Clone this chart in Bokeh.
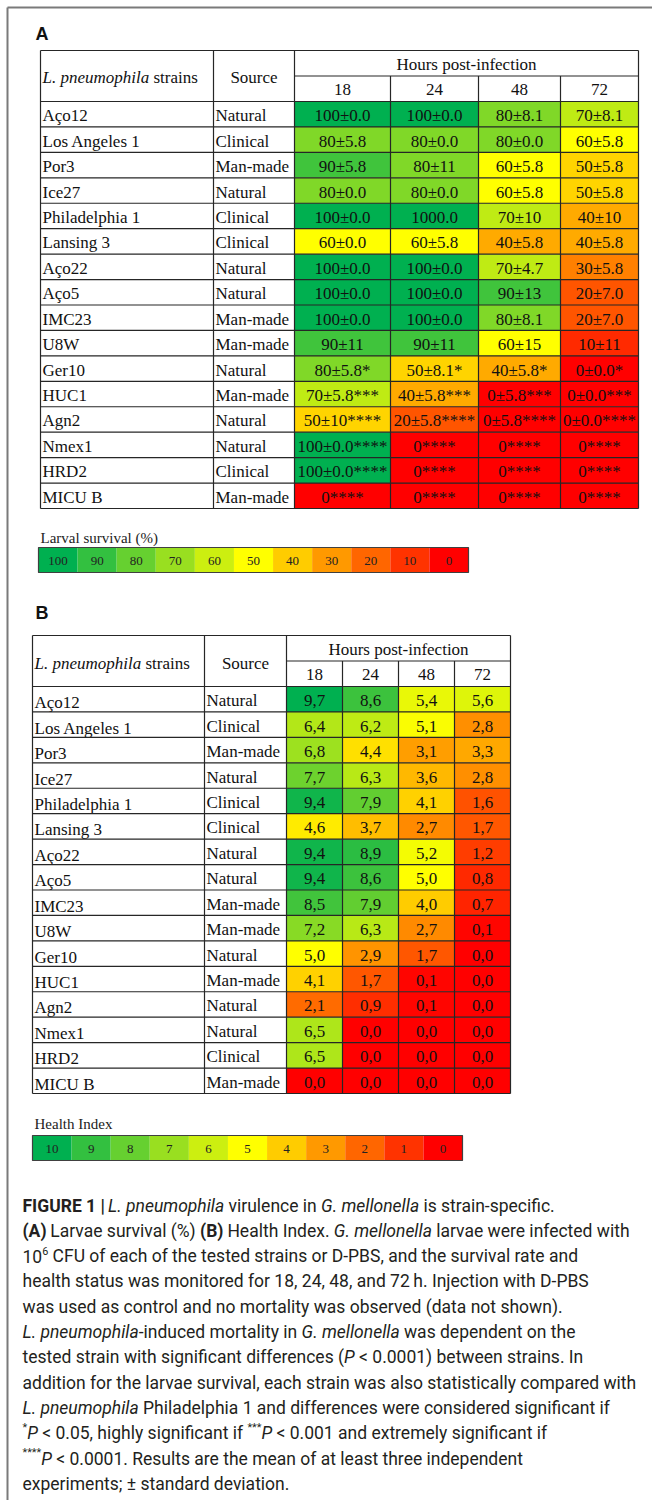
from bokeh.plotting import figure
from bokeh.models import Range1d
from bokeh.embed import file_html
from bokeh.resources import INLINE
from bokeh.core.properties import value
import subprocess

# ---------------- data ----------------
strains = ["Aço12", "Los Angeles 1", "Por3", "Ice27", "Philadelphia 1", "Lansing 3",
           "Aço22", "Aço5", "IMC23", "U8W", "Ger10", "HUC1", "Agn2", "Nmex1", "HRD2", "MICU B"]
sources = ["Natural", "Clinical", "Man-made", "Natural", "Clinical", "Clinical",
           "Natural", "Natural", "Man-made", "Man-made", "Natural", "Man-made",
           "Natural", "Natural", "Clinical", "Man-made"]
hours = ["18", "24", "48", "72"]

survival_18 = [100, 80, 90, 80, 100, 60, 100, 100, 100, 90, 80, 70, 50, 100, 100, 0]
survival_24 = [100, 80, 80, 80, 100, 60, 100, 100, 100, 90, 50, 40, 20, 0, 0, 0]
survival_48 = [80, 80, 60, 60, 70, 40, 70, 90, 80, 60, 40, 0, 0, 0, 0, 0]
survival_72 = [70, 60, 50, 50, 40, 40, 30, 20, 20, 10, 0, 0, 0, 0, 0, 0]

survival_text_18 = ["100±0.0", "80±5.8", "90±5.8", "80±0.0", "100±0.0", "60±0.0", "100±0.0", "100±0.0",
                    "100±0.0", "90±11", "80±5.8*", "70±5.8***", "50±10****", "100±0.0****", "100±0.0****", "0****"]
survival_text_24 = ["100±0.0", "80±0.0", "80±11", "80±0.0", "1000.0", "60±5.8", "100±0.0", "100±0.0",
                    "100±0.0", "90±11", "50±8.1*", "40±5.8***", "20±5.8****", "0****", "0****", "0****"]
survival_text_48 = ["80±8.1", "80±0.0", "60±5.8", "60±5.8", "70±10", "40±5.8", "70±4.7", "90±13",
                    "80±8.1", "60±15", "40±5.8*", "0±5.8***", "0±5.8****", "0****", "0****", "0****"]
survival_text_72 = ["70±8.1", "60±5.8", "50±5.8", "50±5.8", "40±10", "40±5.8", "30±5.8", "20±7.0",
                    "20±7.0", "10±11", "0±0.0*", "0±0.0***", "0±0.0****", "0****", "0****", "0****"]

health_18 = [9.7, 6.4, 6.8, 7.7, 9.4, 4.6, 9.4, 9.4, 8.5, 7.2, 5.0, 4.1, 2.1, 6.5, 6.5, 0.0]
health_24 = [8.6, 6.2, 4.4, 6.3, 7.9, 3.7, 8.9, 8.6, 7.9, 6.3, 2.9, 1.7, 0.9, 0.0, 0.0, 0.0]
health_48 = [5.4, 5.1, 3.1, 3.6, 4.1, 2.7, 5.2, 5.0, 4.0, 2.7, 1.7, 0.1, 0.1, 0.0, 0.0, 0.0]
health_72 = [5.6, 2.8, 3.3, 2.8, 1.6, 1.7, 1.2, 0.8, 0.7, 0.1, 0.0, 0.0, 0.0, 0.0, 0.0, 0.0]

legend_survival = [100, 90, 80, 70, 60, 50, 40, 30, 20, 10, 0]
legend_health = [10, 9, 8, 7, 6, 5, 4, 3, 2, 1, 0]

# ---------------- colour scale (red - yellow - green) ----------------
RED, YELLOW, GREEN = (255, 0, 0), (255, 255, 0), (0, 176, 80)


def scale3(v, lo, mid, hi):
    if v <= mid:
        t, c0, c1 = (v - lo) / (mid - lo), RED, YELLOW
    else:
        t, c0, c1 = (v - mid) / (hi - mid), YELLOW, GREEN
    t = max(0.0, min(1.0, t))
    return "#%02x%02x%02x" % tuple(int(round(a + (b - a) * t)) for a, b in zip(c0, c1))


# ---------------- text measurement ----------------
_fonts = {}


def _font(family, style):
    key = (family, style)
    if key not in _fonts:
        f = None
        try:
            from PIL import ImageFont
            pat = family + {"normal": ":style=Regular", "italic": ":style=Italic",
                            "bold": ":style=Bold"}[style]
            path = subprocess.run(["fc-match", "-f", "%{file}", pat], capture_output=True,
                                  text=True, timeout=10).stdout.strip()
            if path:
                f = ImageFont.truetype(path, 100)
        except Exception:
            f = None
        _fonts[key] = f
    return _fonts[key]


def tw(s, style, size, family="Roboto"):
    f = _font(family, style)
    if f is not None:
        try:
            return f.getlength(s) * size / 100.0
        except Exception:
            pass
    return len(s) * size * 0.5


W, H = 652, 1500
p = figure(width=W, height=H, x_range=Range1d(0, W), y_range=Range1d(H, 0),
           output_backend="svg", toolbar_location=None, min_border=0,
           x_axis_type=None, y_axis_type=None)
p.grid.visible = False
p.outline_line_color = None
p.background_fill_color = "white"
p.border_fill_color = "white"

SERIF = value("Liberation Serif")
SANS = value("Liberation Sans")
LINE = "#262626"
TFS = 17.0

# page frame (top and left)
p.segment(x0=[7, 7], y0=[7, 7], x1=[W, 7], y1=[7, H], line_color="#7a7a7a", line_width=2)


def draw_table(cols, top, mid, body_top, body_bottom, vals, labels, color_fn,
               name_dy, val_dy, hdr_dy):
    n = len(strains)
    rh = (body_bottom - body_top) / n
    tops = [body_top + rh * i for i in range(n)]
    bots = [body_top + rh * (i + 1) for i in range(n)]
    ctr = [body_top + rh * (i + 0.5) for i in range(n)]
    fs = value("%.1fpx" % TFS)
    for j in range(4):
        p.quad(left=[cols[2 + j]] * n, right=[cols[3 + j]] * n, top=tops, bottom=bots,
               fill_color=[color_fn(v) for v in vals[j]], line_color=None)
        xc = (cols[2 + j] + cols[3 + j]) / 2
        p.text(x=[xc] * n, y=[c + val_dy for c in ctr], text=labels[j], text_font=SERIF,
               text_font_size=fs, text_align="center", text_baseline="middle",
               text_color="#111111")
    # strain & source texts
    p.text(x=[cols[0] + 2] * n, y=[c + name_dy for c in ctr], text=strains, text_font=SERIF,
           text_font_size=fs, text_align="left", text_baseline="middle", text_color="#111111")
    p.text(x=[cols[1] + 2] * n, y=[c + val_dy for c in ctr], text=sources, text_font=SERIF,
           text_font_size=fs, text_align="left", text_baseline="middle", text_color="#111111")
    # header texts
    hc = (top + body_top) / 2 + hdr_dy
    p.text(x=[cols[0] + 2], y=[hc], text=["L. pneumophila"], text_font=SERIF,
           text_font_size=fs, text_font_style="italic", text_align="left",
           text_baseline="middle", text_color="#111111")
    sx = cols[0] + 2 + tw("L. pneumophila", "italic", TFS, "Liberation Serif") + tw(" ", "normal", TFS, "Liberation Serif")
    p.text(x=[sx], y=[hc], text=["strains"], text_font=SERIF,
           text_font_size=fs, text_align="left", text_baseline="middle", text_color="#111111")
    p.text(x=[(cols[1] + cols[2]) / 2], y=[hc], text=["Source"], text_font=SERIF,
           text_font_size=fs, text_align="center", text_baseline="middle", text_color="#111111")
    p.text(x=[(cols[2] + cols[6]) / 2], y=[(top + mid) / 2 + 1], text=["Hours post-infection"],
           text_font=SERIF, text_font_size=fs, text_align="center",
           text_baseline="middle", text_color="#111111")
    p.text(x=[(cols[2 + j] + cols[3 + j]) / 2 for j in range(4)], y=[(mid + body_top) / 2 + 1] * 4,
           text=hours, text_font=SERIF, text_font_size=fs, text_align="center",
           text_baseline="middle", text_color="#111111")
    # grid lines
    hy = [top] + [body_top + rh * i for i in range(n + 1)]
    p.segment(x0=[cols[0]] * len(hy), x1=[cols[6]] * len(hy), y0=hy, y1=hy, line_color=LINE, line_width=1.2)
    p.segment(x0=[cols[2]], x1=[cols[6]], y0=[mid], y1=[mid], line_color=LINE, line_width=1.2)
    vx = [cols[0], cols[1], cols[2], cols[6]]
    p.segment(x0=vx, x1=vx, y0=[top] * 4, y1=[body_bottom] * 4, line_color=LINE, line_width=1.2)
    vx2 = [cols[3], cols[4], cols[5]]
    p.segment(x0=vx2, x1=vx2, y0=[mid] * 3, y1=[body_bottom] * 3, line_color=LINE, line_width=1.2)


def draw_legend(x0, x1, y0, y1, vals, color_fn, title, title_y):
    n = len(vals)
    cw = (x1 - x0) / n
    p.quad(left=[x0 + cw * i for i in range(n)], right=[x0 + cw * (i + 1) for i in range(n)],
           top=[y0] * n, bottom=[y1] * n, fill_color=[color_fn(v) for v in vals], line_color=None)
    p.quad(left=[x0], right=[x1], top=[y0], bottom=[y1], fill_color=None, line_color="#404040", line_width=1.2)
    p.text(x=[x0 + cw * (i + 0.5) for i in range(n)], y=[(y0 + y1) / 2 + 1] * n, text=[str(v) for v in vals],
           text_font=SERIF, text_font_size=value("13px"), text_align="center", text_baseline="middle",
           text_color="#222222")
    p.text(x=[x0 + 2], y=[title_y], text=[title], text_font=SERIF, text_font_size=value("15px"),
           text_align="left", text_baseline="middle", text_color="#222222")


# panel labels
p.text(x=[35, 35], y=[33.5, 612.5], text=["A", "B"], text_font=SANS, text_font_size=value("18px"),
       text_font_style="bold", text_align="left", text_baseline="middle", text_color="#111111")

# ---- table A ----
draw_table([40, 213, 294, 390, 478, 560, 638], 50, 75.5, 101, 508,
           [survival_18, survival_24, survival_48, survival_72],
           [survival_text_18, survival_text_24, survival_text_48, survival_text_72],
           lambda v: scale3(v, 0, 60, 100), 1.5, 1.5, 1.5)
draw_legend(38, 468, 547, 572, legend_survival, lambda v: scale3(v, 0, 50, 100), "Larval survival (%)", 537)

# ---- table B ----
draw_table([32, 204, 286, 342, 398, 454, 510], 635, 660.5, 686, 1093,
           [health_18, health_24, health_48, health_72],
           [[("%.1f" % v).replace(".", ",") for v in col] for col in (health_18, health_24, health_48, health_72)],
           lambda v: scale3(v, 0, 5, 9.7), 3.5, 1.5, 2.0)
draw_legend(32, 462, 1135, 1160, legend_health, lambda v: scale3(v, 0, 5, 10), "Health Index", 1123)

# ---------------- caption ----------------
caption = [
    [("FIGURE 1 | ", "b"), ("L. pneumophila", "i"), (" virulence in ", "n"), ("G. mellonella", "i"),
     (" is strain-specific.", "n")],
    [("(A)", "b"), (" Larvae survival (%) ", "n"), ("(B)", "b"), (" Health Index. ", "n"),
     ("G. mellonella", "i"), (" larvae were infected with", "n")],
    [("10", "n"), ("6", "s"), (" CFU of each of the tested strains or D-PBS, and the survival rate and", "n")],
    [("health status was monitored for 18, 24, 48, and 72\u2009h. Injection with D-PBS", "n")],
    [("was used as control and no mortality was observed (data not shown).", "n")],
    [("L. pneumophila", "i"), ("-induced mortality in ", "n"), ("G. mellonella", "i"),
     (" was dependent on the", "n")],
    [("tested strain with significant differences (", "n"), ("P", "i"), (" < 0.0001) between strains. In", "n")],
    [("addition for the larvae survival, each strain was also statistically compared with", "n")],
    [("L. pneumophila", "i"), (" Philadelphia 1 and differences were considered significant if", "n")],
    [("*", "s"), ("P", "i"), (" < 0.05, highly significant if ", "n"), ("***", "s"), ("P", "i"),
     (" < 0.001 and extremely significant if", "n")],
    [("****", "s"), ("P", "i"), (" < 0.0001. Results are the mean of at least three independent", "n")],
    [("experiments; ± standard deviation.", "n")],
]
SMAP = {"n": "normal", "i": "italic", "b": "bold", "s": "normal"}
SUP = 0.62


def line_width(segs, size):
    return sum(tw(t, SMAP[s], size * (SUP if s == "s" else 1.0)) for t, s in segs)


cap_x0, cap_right = 22, 658
widest = max(line_width(l, 1.0) for l in caption)
cap_size = min(17.5, (cap_right - cap_x0) / widest) if widest > 0 else 15.0
cap_size = round(cap_size, 2)

buckets = {k: ([], [], []) for k in SMAP}
for i, segs in enumerate(caption):
    y = 1205 + 25.3 * i
    x = cap_x0
    for t, s in segs:
        sz = cap_size * (SUP if s == "s" else 1.0)
        core = t.strip(" ")
        lead = len(t) - len(t.lstrip(" "))
        trail = len(t) - len(t.rstrip(" "))
        x += tw(" " * lead, SMAP[s], sz) if lead else 0
        bx, by, bt = buckets[s]
        bx.append(x)
        by.append(y - (cap_size * 0.32 if s == "s" else 0))
        bt.append(core)
        x += tw(core, SMAP[s], sz)
        x += tw(" " * trail, SMAP[s], sz) if trail else 0

for s, (bx, by, bt) in buckets.items():
    if not bx:
        continue
    sz = cap_size * (SUP if s == "s" else 1.0)
    p.text(x=bx, y=by, text=bt, text_font=value("Roboto"), text_font_size=value("%.2fpx" % sz),
           text_font_style=SMAP[s], text_align="left", text_baseline="middle", text_color="#231f20")

open("out.html", "w").write(file_html(p, INLINE))
